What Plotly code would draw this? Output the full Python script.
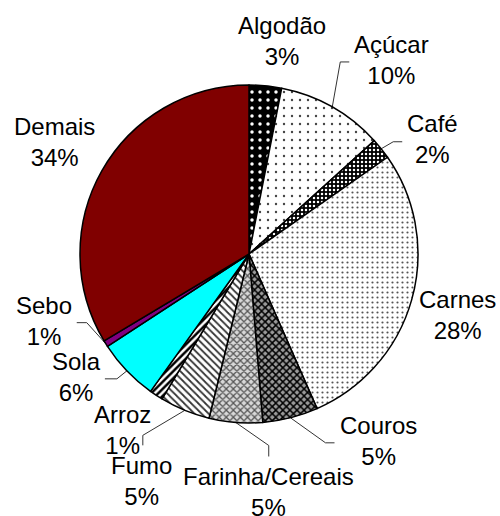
import plotly.graph_objects as go
import math

# ---- data ----
categories = ["Algodão", "Açúcar", "Café", "Carnes", "Couros", "Farinha/Cereais",
              "Fumo", "Arroz", "Sola", "Sebo", "Demais"]
values = [3.1, 10.2, 2.0, 28.1, 5.3, 5.1, 4.8, 1.3, 5.9, 0.6, 33.6]

# ---- styles ----
bg_colors = ["#000000", "#ffffff", "#000000", "#ffffff", "#9a9a9a", "#d8d8d8",
             "#ffffff", "#ffffff", "#00ffff", "#800080", "#800000"]
pat_shape = [".", ".", ".", ".", "x", "x", "\\", "/", "", "", ""]
pat_fg = ["#ffffff", "#444444", "#ffffff", "#555555", "#000000", "#555555",
          "#333333", "#000000", "#000000", "#000000", "#000000"]
pat_size = [8, 8, 4, 5, 5, 5, 5, 5, 8, 8, 8]
pat_solid = [0.15, 0.07, 0.3, 0.15, 0.5, 0.45, 0.35, 0.5, 0.3, 0.3, 0.3]

W, H = 500, 516
CX, CY, R = 249, 254, 169

# label centre offset from slice edge midpoint (px), leader attach (offset from label centre), direction
label_off = [(17, -45), (59, -47), (51, -10), (46, 15), (88, 23), (33, 70),
             (-43, 71), (-34, 35), (-50, 6), (-62, -23), (-47, -29)]
leader_end = [None, (-42, 2), (-30, 3), None, (-44, 2), (0, -36),
              (1, -36), None, (28, 2), (33, 2), None]
leader_dir = [None, (-9, 0), (-9, 0), None, (-9, 0), (0, -11),
              (0, -10), None, (12, 0), (10, 0), None]

fig = go.Figure()
fig.add_trace(go.Pie(
    labels=categories, values=values, sort=False, direction="clockwise",
    rotation=0, textinfo="none", hoverinfo="label+percent", showlegend=False,
    domain=dict(x=[(CX - R) / W, (CX + R) / W], y=[1 - (CY + R) / H, 1 - (CY - R) / H]),
    marker=dict(colors=bg_colors, line=dict(color="#000000", width=1.5),
                pattern=dict(shape=pat_shape, fgcolor=pat_fg, bgcolor=bg_colors,
                             size=pat_size, solidity=pat_solid, fillmode="replace")),
))

total = sum(values)
cum = 0.0
annotations = []
for i, (cat, v) in enumerate(zip(categories, values)):
    mid = (cum + v / 2) / total * 2 * math.pi
    cum += v
    ex = CX + R * math.sin(mid)
    ey = CY - R * math.cos(mid)
    lx = ex + label_off[i][0]
    ly = ey + label_off[i][1]
    pct = round(v / total * 100)
    annotations.append(dict(x=lx, y=ly, xref="x", yref="y", text=f"{cat}<br>{pct}%",
                            showarrow=False, xanchor="center", yanchor="middle",
                            font=dict(family="Liberation Sans, Arial", size=24, color="#000")))
    if leader_end[i] is not None:
        endx = lx + leader_end[i][0]
        endy = ly + leader_end[i][1]
        elx = endx + leader_dir[i][0]
        ely = endy + leader_dir[i][1]
        fig.add_trace(go.Scatter(x=[ex, elx, endx], y=[ey, ely, endy], mode="lines",
                                 line=dict(color="#333333", width=1), hoverinfo="skip",
                                 showlegend=False))

fig.update_layout(
    width=W, height=H, margin=dict(l=0, r=0, t=0, b=0),
    paper_bgcolor="white", plot_bgcolor="rgba(0,0,0,0)",
    xaxis=dict(range=[0, W], visible=False, fixedrange=True),
    yaxis=dict(range=[H, 0], visible=False, fixedrange=True),
    annotations=annotations,
)
fig.write_html("out.html", config={"displayModeBar": False},
               post_script="document.body.style.margin='0';document.body.style.overflow='hidden';")
